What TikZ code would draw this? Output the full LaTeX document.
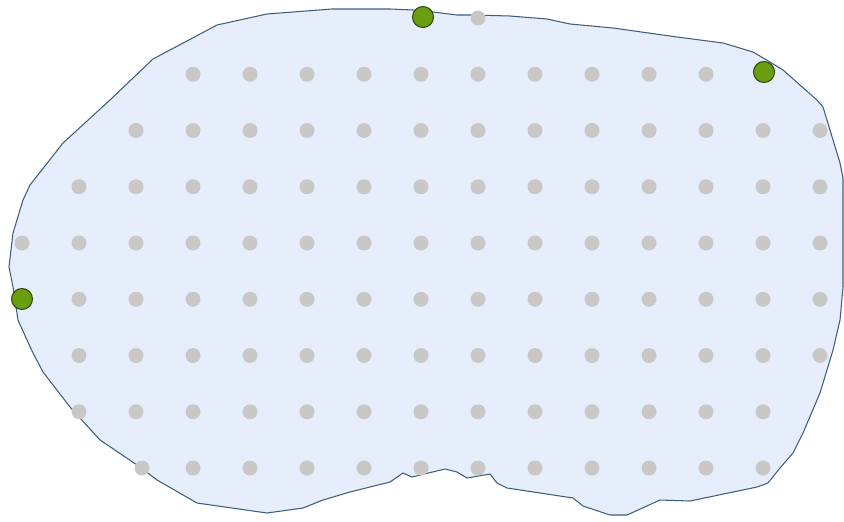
\documentclass[tikz,border=0pt]{standalone}
\usetikzlibrary{positioning}
\definecolor{blobfill}{HTML}{E6EEFC}
\definecolor{blobedge}{HTML}{3E5E7E}
\definecolor{dotgray}{HTML}{C9C8C6}
\definecolor{seedgreen}{HTML}{6A9E12}
\definecolor{seededge}{HTML}{2E4A08}
\begin{document}
\begin{tikzpicture}[x=0.02cm,y=-0.02cm,
  griddot/.style={circle,fill=dotgray,inner sep=0pt,minimum size=0.3cm},
  seeddot/.style={circle,fill=seedgreen,draw=seededge,line width=0.6pt,inner sep=0pt,minimum size=0.42cm}]
  \useasboundingbox (0,0) rectangle (844,521);
  \draw[blobedge,fill=blobfill,line width=0.6pt]
    (390,9)--(413,10)--(433,12)--(457,15)--(473,15)--(510,16)--(547,19)--(570,24)
    --(613,28)--(677,37)--(723,43)--(753,52)--(770,62)--(783,70)--(817,100)--(823,107)
    --(840,163)--(843,178)--(843,287)--(840,320)--(833,350)--(820,393)--(803,433)
    --(793,453)--(780,468)--(768,483)--(757,487)--(690,501)--(660,500)--(627,515)
    --(610,515)--(583,506)--(573,498)--(507,488)--(497,483)--(490,474)--(467,478)
    --(457,472)--(445,469)--(412,477)--(403,473)--(390,482)--(350,492)--(323,500)
    --(303,508)--(267,513)--(197,503)--(157,480)--(140,467)--(100,440)--(70,407)
    --(43,372)--(33,353)--(27,340)--(18,320)--(13,287)--(9,267)--(13,233)--(23,200)
    --(30,185)--(63,143)--(110,100)--(153,59)--(217,25)--(267,14)--(332,9)--cycle;
  % grid of sample points, row / first column / last column
  \foreach \r/\a/\b in {0/8/8,1/3/12,2/2/14,3/1/14,4/0/14,5/1/14,6/1/14,7/1/13,8/2/13}
    \foreach \c in {\a,...,\b}
      \node[griddot] (g-\r-\c) at ({22+57*\c+(\r==8)*(\c==2)*6},{18+56.25*\r}) {};
  % seed points on the boundary
  \node[seeddot] (seed-top) at (423,17) {};
  \node[seeddot] (seed-right) at (764,72) {};
  \node[seeddot] (seed-left) at (22,299) {};
\end{tikzpicture}
\end{document}
